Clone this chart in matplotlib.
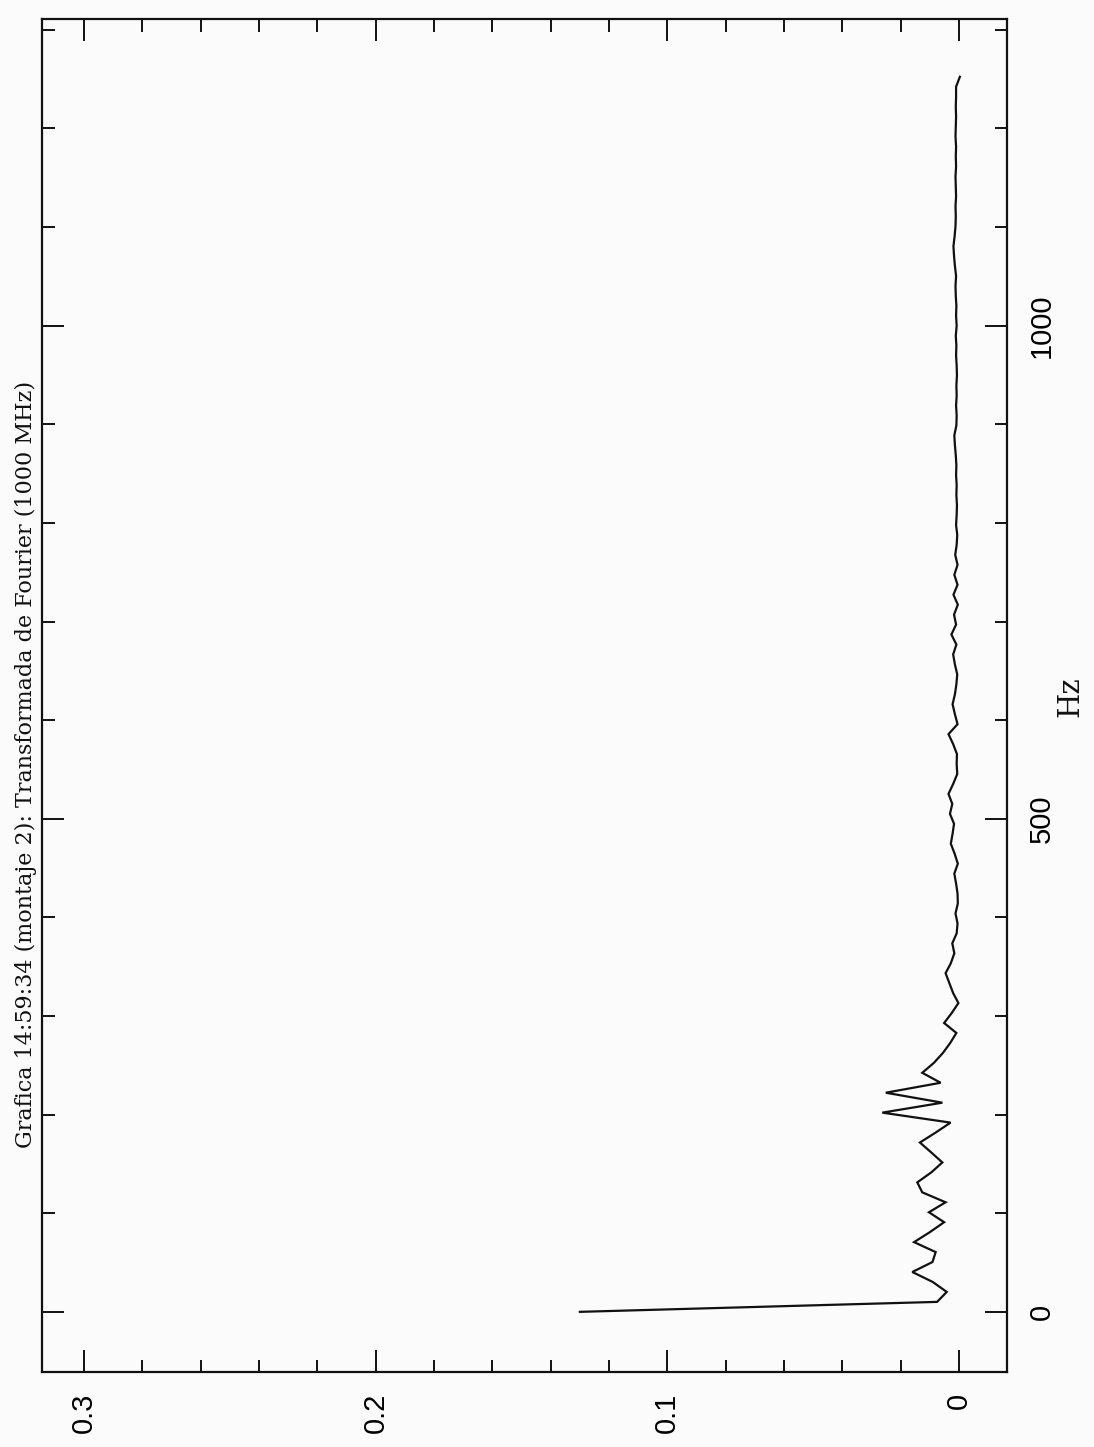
import numpy as np
import matplotlib
matplotlib.use("Agg")
import matplotlib.pyplot as plt
from matplotlib.ticker import MultipleLocator, FixedLocator

# spectrum amplitude, one value per frequency bin
amp = [0.130, 0.0075, 0.0042, 0.0090, 0.0160, 0.0091, 0.0080, 0.0154, 0.0100, 0.0051,
       0.0103, 0.0046, 0.0126, 0.0143, 0.0095, 0.0057, 0.0095, 0.0134, 0.0080, 0.0029,
       0.0263, 0.0057, 0.0251, 0.0063, 0.0126, 0.0086, 0.0055, 0.0030, 0.0009, 0.0051,
       0.0025, 0.0002, 0.0020, 0.0033, 0.0046, 0.0028, 0.0016, 0.0023, 0.0008, 0.0005,
       0.0012, 0.0004, 0.0005, 0.0010, 0.0016, 0.0004, 0.0015, 0.0028, 0.0022, 0.0017,
       0.0031, 0.0023, 0.0036, 0.0020, 0.0006, 0.0008, 0.0007, 0.0020, 0.0036, 0.0005,
       0.0014, 0.0022, 0.0014, 0.0009, 0.0006, 0.0014, 0.0020, 0.0009, 0.0026, 0.0010,
       0.0017, 0.0004, 0.0019, 0.0005, 0.0016, 0.0005, 0.0013, 0.0008, 0.0006, 0.0010,
       0.0008, 0.0007, 0.0009, 0.0008, 0.0010, 0.0009, 0.0011, 0.0014, 0.0016, 0.0009,
       0.0008, 0.0010, 0.0008, 0.0009, 0.0007, 0.0008, 0.0010, 0.0009, 0.0011, 0.0008,
       0.0010, 0.0009, 0.0011, 0.0012, 0.0010, 0.0014, 0.0017, 0.0019, 0.0015, 0.0012,
       0.0011, 0.0012, 0.0010, 0.0011, 0.0012, 0.0010, 0.0011, 0.0010, 0.0012, 0.0011,
       0.0010, 0.0011, 0.0010, 0.0010, -0.0003]
bin_hz = 10.1
freq = np.arange(len(amp)) * bin_hz

amp_ticks = [0, 0.1, 0.2, 0.3]
amp_labels = ["0", "0.1", "0.2", "0.3"]
hz_ticks = [0, 500, 1000]
hz_labels = ["0", "500", "1000"]

title = "Grafica 14:59:34 (montaje 2): Transformada de Fourier (1000 MHz)"

W, H = 1094, 1447
fig = plt.figure(figsize=(W / 100, H / 100), dpi=100, facecolor="#fbfbfb")
ax = fig.add_axes([41.5 / W, 1 - 1372 / H, (1007 - 41.5) / W, (1372 - 19) / H])
ax.set_facecolor("#fbfbfb")

# page is landscape turned on its side: amplitude runs right-to-left, Hz upward
ax.plot(amp, freq, color="#111111", lw=1.6, solid_joinstyle="miter")
ax.set_xlim(0.3146, -0.01646)
ax.set_ylim(-61, 1311)

for s in ax.spines.values():
    s.set_linewidth(1.6)
    s.set_color("#111111")

ax.xaxis.set_major_locator(FixedLocator(amp_ticks))
ax.xaxis.set_minor_locator(MultipleLocator(0.02))
ax.set_xticklabels(amp_labels, rotation=90, fontsize=21, family="Liberation Sans")
ax.yaxis.set_major_locator(FixedLocator(hz_ticks))
ax.yaxis.set_minor_locator(MultipleLocator(100))
ax.yaxis.tick_right()
ax.set_yticklabels(hz_labels, rotation=90, fontsize=21, family="Liberation Sans",
                   va="center")

ax.tick_params(which="both", direction="in", top=True, bottom=True, left=True,
               right=True, labelleft=False, labelright=True, color="#111111",
               width=1.4)
ax.tick_params(which="major", length=16)
ax.tick_params(which="minor", length=9)
ax.tick_params(axis="x", which="major", pad=15)
ax.tick_params(axis="y", which="major", pad=15)

fig.text(26 / W, 1 - 764 / H, title, rotation=90, ha="center", va="center",
         fontsize=16, family="DejaVu Serif", color="#111111")
fig.text(1070 / W, 1 - 697 / H, "Hz", rotation=90, ha="center", va="center",
         fontsize=21, family="DejaVu Serif", color="#111111")

fig.savefig("out.png", dpi=100, facecolor=fig.get_facecolor())
